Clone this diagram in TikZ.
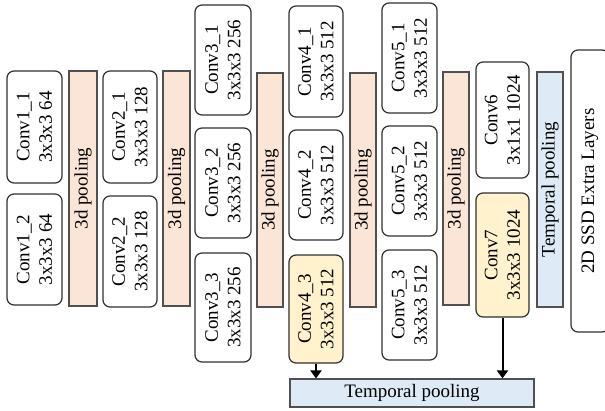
\documentclass[tikz,border=0pt]{standalone}
\usepackage{fontspec}
\setmainfont{Liberation Serif}
\usetikzlibrary{arrows.meta}
\definecolor{poolfill}{HTML}{FBE5D6}
\definecolor{yfill}{HTML}{FFF2CC}
\definecolor{bfill}{HTML}{DEEBF7}
\definecolor{edgegray}{HTML}{505050}
\definecolor{edgedark}{HTML}{303030}
\tikzset{
  txt/.style={font=\fontsize{19}{22.5}\selectfont, align=center, inner sep=0pt},
  conv/.style={txt, draw=edgedark, line width=1.2pt, rounded corners=7pt, fill=white, rotate=90},
  convy/.style={conv, fill=yfill},
  pool/.style={txt, draw=edgegray, line width=1.2pt, fill=poolfill, rotate=90},
  tpool/.style={txt, draw=edgegray, line width=1.2pt, fill=bfill},
  arr/.style={line width=2pt, -{Triangle[length=8pt,width=11pt]}}
}
\begin{document}
\begin{tikzpicture}[x=1pt,y=-1pt]
\useasboundingbox (0,0) rectangle (605,410);
\clip (0,0) rectangle (605,410);
% column 1
\node[conv, minimum width=112pt, minimum height=55pt] (c11) at (34.5,127) {Conv1\_1\\3x3x3 64};
\node[conv, minimum width=111pt, minimum height=55pt] (c12) at (34.5,249.5) {Conv1\_2\\3x3x3 64};
\node[pool, minimum width=235pt, minimum height=28pt] (p1) at (83,188.5) {3d pooling};
% column 2
\node[conv, minimum width=112pt, minimum height=54pt] (c21) at (130,127) {Conv2\_1\\3x3x3 128};
\node[conv, minimum width=111pt, minimum height=54pt] (c22) at (130,251.5) {Conv2\_2\\3x3x3 128};
\node[pool, minimum width=235pt, minimum height=27pt] (p2) at (176.5,188.5) {3d pooling};
% column 3
\node[conv, minimum width=110pt, minimum height=56pt] (c31) at (223,60) {Conv3\_1\\3x3x3 256};
\node[conv, minimum width=110pt, minimum height=56pt] (c32) at (223,183) {Conv3\_2\\3x3x3 256};
\node[conv, minimum width=109pt, minimum height=56pt] (c33) at (223,307.5) {Conv3\_3\\3x3x3 256};
\node[pool, minimum width=234pt, minimum height=26pt] (p3) at (270,190) {3d pooling};
% column 4
\node[conv, minimum width=111pt, minimum height=54pt] (c41) at (316,61.5) {Conv4\_1\\3x3x3 512};
\node[conv, minimum width=110pt, minimum height=54pt] (c42) at (316,185) {Conv4\_2\\3x3x3 512};
\node[convy, minimum width=108pt, minimum height=54pt] (c43) at (316,309) {Conv4\_3\\3x3x3 512};
\node[pool, minimum width=234pt, minimum height=26pt] (p4) at (363,190) {3d pooling};
% column 5
\node[conv, minimum width=110pt, minimum height=55pt] (c51) at (409.5,58) {Conv5\_1\\3x3x3 512};
\node[conv, minimum width=110pt, minimum height=55pt] (c52) at (409.5,181) {Conv5\_2\\3x3x3 512};
\node[conv, minimum width=110pt, minimum height=55pt] (c53) at (409.5,305) {Conv5\_3\\3x3x3 512};
\node[pool, minimum width=233pt, minimum height=26pt] (p5) at (456,188.5) {3d pooling};
% column 6
\node[conv, minimum width=116pt, minimum height=53pt] (c6) at (502.5,120) {Conv6\\3x1x1 1024};
\node[convy, minimum width=124pt, minimum height=53pt] (c7) at (502.5,255) {Conv7\\3x3x3 1024};
\node[tpool, rotate=90, minimum width=235pt, minimum height=26pt] (tpv) at (550,189.5) {Temporal pooling};
\node[conv, minimum width=282pt, minimum height=38pt] (ssd) at (590,191) {2D SSD Extra Layers};
% bottom
\node[tpool, minimum width=244pt, minimum height=28pt] (tph) at (412,393) {Temporal pooling};
\draw[arr] (c43.west) -- (c43.west |- tph.north);
\draw[arr] (c7.west) -- (c7.west |- tph.north);
\end{tikzpicture}
\end{document}
